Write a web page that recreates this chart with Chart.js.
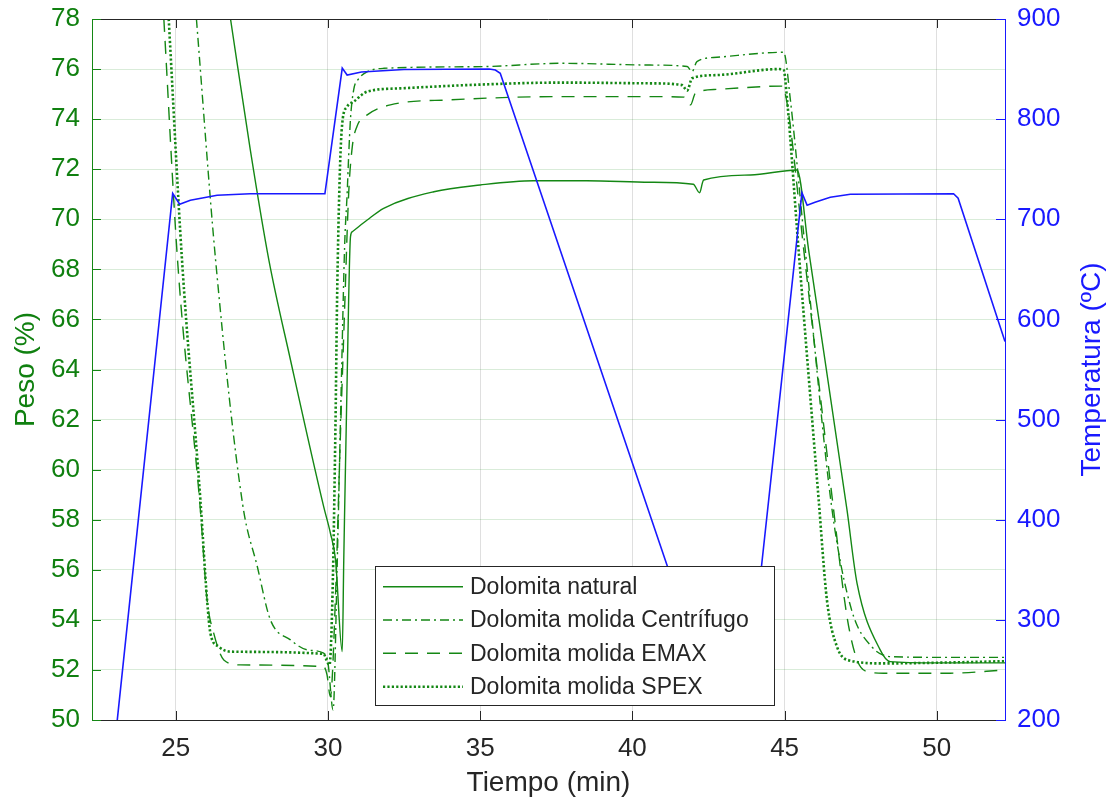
<!DOCTYPE html>
<html><head><meta charset="utf-8">
<script src="https://cdn.jsdelivr.net/npm/chart.js@4.4.1/dist/chart.umd.min.js"></script>
<style>html,body{margin:0;padding:0;background:#fff;}#wrap{width:1111px;height:807px;}</style>
</head><body><div id="wrap"><canvas id="c" width="1111" height="807"></canvas></div>
<script>
// ---- Data ----
const xTickValues = [25, 30, 35, 40, 45, 50];
const pesoTickValues = [50, 52, 54, 56, 58, 60, 62, 64, 66, 68, 70, 72, 74, 76, 78];
const tempTickValues = [200, 300, 400, 500, 600, 700, 800, 900];

const seriesNames = ["Dolomita natural", "Dolomita molida Centrífugo", "Dolomita molida EMAX", "Dolomita molida SPEX"];

const naturalTime = [26.80, 27.45, 28.06, 28.77, 29.86, 30.08, 30.25, 30.47, 30.52, 30.68, 30.74, 30.80, 31.29, 31.83, 33.48, 35.0, 36.75, 38.5, 40.58, 42.0, 42.21, 42.30, 42.34, 43.88, 45.41, 45.79, 47.05, 47.38, 48.14, 48.47, 50.0, 52.24];
const naturalPeso = [78.0, 72.77, 68.37, 64.38, 58.52, 57.47, 56.39, 52.73, 56.39, 66.78, 69.3, 69.5, 69.97, 70.44, 71.10, 71.37, 71.54, 71.54, 71.48, 71.40, 71.06, 71.45, 71.57, 71.77, 71.97, 68.77, 58.39, 55.46, 52.80, 52.33, 52.28, 52.28];

const centrifugoTime = [25.68, 26.31, 27.2, 27.68, 28.11, 28.77, 29.32, 29.86, 30.0, 30.17, 30.3, 30.45, 30.55, 30.63, 30.68, 30.74, 30.85, 31.0, 31.3, 31.83, 35.12, 37.64, 40.58, 41.8, 41.96, 42.12, 42.78, 44.97, 45.19, 45.68, 46.56, 47.2, 47.86, 48.51, 50.5, 52.24];
const centrifugoPeso = [78.0, 68.37, 58.6, 56.13, 54.0, 53.2, 52.80, 52.67, 52.3, 50.4, 56.0, 64.0, 69.0, 71.0, 72.5, 74.0, 75.2, 75.6, 75.9, 76.03, 76.1, 76.23, 76.16, 76.1, 75.9, 76.3, 76.47, 76.67, 74.77, 68.77, 58.39, 54.4, 52.93, 52.53, 52.5, 52.5];

const emaxTime = [24.61, 25.06, 25.81, 26.03, 26.25, 26.58, 27.13, 29.86, 29.97, 30.08, 30.25, 30.4, 30.55, 30.68, 30.8, 30.95, 31.29, 32.05, 34.02, 37.64, 40.58, 41.7, 41.91, 42.07, 42.78, 44.92, 45.1, 45.63, 46.6, 47.05, 47.38, 47.71, 48.25, 50.44, 52.24];
const emaxPeso = [78.0, 68.37, 58.39, 54.8, 53.46, 52.40, 52.2, 52.13, 51.8, 50.93, 55.0, 61.0, 66.5, 71.0, 72.9, 73.7, 74.17, 74.57, 74.77, 74.90, 74.90, 74.88, 74.57, 75.03, 75.19, 75.32, 74.5, 68.77, 58.5, 54.13, 52.4, 51.93, 51.87, 51.87, 52.0];

const spexTime = [24.77, 25.2, 25.81, 26.03, 26.14, 26.41, 26.80, 29.86, 29.95, 30.05, 30.15, 30.25, 30.3, 30.39, 30.47, 30.63, 30.85, 31.29, 32.38, 34.57, 37.64, 40.58, 41.63, 41.8, 41.96, 42.78, 44.8, 44.97, 45.08, 45.46, 46.12, 46.39, 46.72, 47.16, 48.25, 50.5, 52.24];
const spexPeso = [78.0, 68.5, 58.79, 54.8, 53.46, 52.93, 52.73, 52.64, 52.4, 52.2, 55.0, 62.0, 66.78, 71.84, 73.83, 74.5, 74.70, 75.10, 75.23, 75.36, 75.46, 75.43, 75.36, 75.14, 75.63, 75.76, 76.0, 75.96, 74.8, 68.77, 58.79, 54.8, 52.93, 52.37, 52.26, 52.3, 52.35];

const tempTime = [23.08, 24.90, 25.13, 25.48, 26.36, 27.45, 29.90, 30.47, 30.63, 31.1, 32.5, 35.3, 35.5, 35.66, 42.55, 43.80, 44.24, 45.57, 45.74, 46.0, 46.5, 47.16, 50.55, 50.70, 52.24];
const tempValue = [200, 726, 715, 719, 724, 725.5, 725.5, 851, 844, 847, 849.5, 850, 849, 845.8, 228, 228, 353, 726.5, 714, 717, 722, 725, 725.5, 721, 578];

// ---- Styles ----
const FONT = "'Liberation Sans', Arial, Helvetica, sans-serif";
const GREEN = 'rgb(20,135,20)';
const GREEN_TXT = 'rgb(16,128,16)';
const BLUE = 'rgb(25,25,255)';
const DARK = '#262626';

const zip = (xs, ys) => xs.map((x, i) => ({x: x, y: ys[i]}));

const greenStyles = [
  {borderDash: [], borderWidth: 1.4},
  {borderDash: [9, 4, 2, 4], borderWidth: 1.4},
  {borderDash: [13, 9], borderWidth: 1.4},
  {borderDash: [2.2, 2.2], borderWidth: 2.6}
];
const greenData = [zip(naturalTime, naturalPeso), zip(centrifugoTime, centrifugoPeso), zip(emaxTime, emaxPeso), zip(spexTime, spexPeso)];

const datasets = [{
  label: 'Temperatura', data: zip(tempTime, tempValue), yAxisID: 'y2',
  borderColor: BLUE, borderWidth: 1.6, pointRadius: 0, tension: 0, fill: false
}];
greenData.forEach((d, i) => datasets.push({
  label: seriesNames[i], data: d, yAxisID: 'y', borderColor: GREEN,
  borderWidth: greenStyles[i].borderWidth, borderDash: greenStyles[i].borderDash,
  pointRadius: 0, cubicInterpolationMode: 'monotone', fill: false
}));

const noPad = s => { s.paddingTop = 0; s.paddingBottom = 0; s.paddingLeft = 0; s.paddingRight = 0; };

const overlay = {
  id: 'overlay',
  afterDatasetsDraw(chart) {
    const {ctx, chartArea: a, scales} = chart;
    ctx.save();
    ctx.lineWidth = 1;
    ctx.strokeStyle = DARK;
    ctx.beginPath(); ctx.moveTo(a.left, a.top + 0.5); ctx.lineTo(a.right, a.top + 0.5); ctx.stroke();
    const L = 9;
    scales.x.ticks.forEach(t => {
      const px = Math.round(scales.x.getPixelForValue(t.value)) + 0.5;
      ctx.beginPath();
      ctx.moveTo(px, a.bottom); ctx.lineTo(px, a.bottom - L);
      ctx.moveTo(px, a.top); ctx.lineTo(px, a.top + L);
      ctx.stroke();
    });
    ctx.strokeStyle = GREEN;
    scales.y.ticks.forEach(t => {
      const py = Math.round(scales.y.getPixelForValue(t.value)) + 0.5;
      ctx.beginPath(); ctx.moveTo(a.left, py); ctx.lineTo(a.left + L, py); ctx.stroke();
    });
    ctx.strokeStyle = BLUE;
    scales.y2.ticks.forEach(t => {
      const py = Math.round(scales.y2.getPixelForValue(t.value)) + 0.5;
      ctx.beginPath(); ctx.moveTo(a.right, py); ctx.lineTo(a.right - L, py); ctx.stroke();
    });
    // legend box
    const bx = 375.5, by = 566.5, bw = 399, bh = 139;
    ctx.fillStyle = '#fff';
    ctx.fillRect(bx, by, bw, bh);
    ctx.strokeStyle = DARK; ctx.lineWidth = 1;
    ctx.strokeRect(bx, by, bw, bh);
    const rows = [586.7, 620, 653.3, 686.7];
    ctx.font = "23px " + FONT;
    ctx.textBaseline = 'middle';
    ctx.textAlign = 'left';
    seriesNames.forEach((name, i) => {
      ctx.save();
      ctx.strokeStyle = GREEN;
      ctx.lineWidth = greenStyles[i].borderWidth;
      ctx.setLineDash(greenStyles[i].borderDash);
      ctx.beginPath(); ctx.moveTo(383, rows[i]); ctx.lineTo(463, rows[i]); ctx.stroke();
      ctx.restore();
      ctx.fillStyle = DARK;
      ctx.fillText(name, 470, rows[i] + 1);
    });
    ctx.restore();
  },
  afterDraw(chart) {
    const {ctx, chartArea: a} = chart;
    ctx.save();
    ctx.font = "28px " + FONT;
    ctx.textAlign = 'center';
    ctx.textBaseline = 'middle';
    ctx.fillStyle = DARK;
    ctx.fillText('Tiempo (min)', (a.left + a.right) / 2, 783);
    const cy = (a.top + a.bottom) / 2;
    ctx.save();
    ctx.translate(26, cy); ctx.rotate(-Math.PI / 2);
    ctx.fillStyle = GREEN_TXT; ctx.fillText('Peso (%)', 0, 0);
    ctx.restore();
    ctx.save();
    ctx.translate(1092, cy); ctx.rotate(-Math.PI / 2);
    ctx.fillStyle = BLUE; ctx.fillText('Temperatura (ºC)', 0, 0);
    ctx.restore();
    ctx.restore();
  }
};

new Chart(document.getElementById('c'), {
  type: 'line',
  data: {datasets: datasets},
  options: {
    responsive: false, animation: false, devicePixelRatio: 1,
    layout: {padding: {top: 19, left: 0, right: 0, bottom: 0}},
    plugins: {legend: {display: false}, tooltip: {enabled: false}, title: {display: false}},
    elements: {point: {radius: 0}},
    scales: {
      x: {
        type: 'linear', min: 22.25, max: 52.24,
        afterBuildTicks: s => { s.ticks = xTickValues.map(v => ({value: v})); },
        afterFit: s => { s.height = 87; noPad(s); },
        grid: {color: 'rgba(38,38,38,0.15)', drawTicks: false, lineWidth: 1},
        border: {color: DARK, width: 1},
        ticks: {color: DARK, font: {family: FONT, size: 26}, padding: 13, maxRotation: 0, autoSkip: false, callback: v => String(v)}
      },
      y: {
        position: 'left', min: 50, max: 78,
        afterBuildTicks: s => { s.ticks = pesoTickValues.map(v => ({value: v})); },
        afterFit: s => { s.width = 92; noPad(s); },
        grid: {color: 'rgba(0,128,0,0.15)', drawTicks: false, lineWidth: 1},
        border: {color: GREEN, width: 1},
        ticks: {color: GREEN_TXT, font: {family: FONT, size: 26}, padding: 12, autoSkip: false, callback: v => String(v)}
      },
      y2: {
        position: 'right', min: 200, max: 900,
        afterBuildTicks: s => { s.ticks = tempTickValues.map(v => ({value: v})); },
        afterFit: s => { s.width = 106; noPad(s); },
        grid: {display: false, drawTicks: false},
        border: {color: BLUE, width: 1},
        ticks: {color: BLUE, font: {family: FONT, size: 26}, padding: 12, autoSkip: false, callback: v => String(v)}
      }
    }
  },
  plugins: [overlay]
});
</script>
</body></html>
